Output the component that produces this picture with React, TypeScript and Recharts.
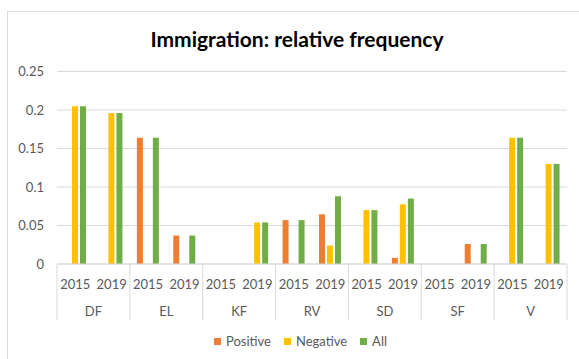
import React from "react"
import { Bar, BarChart, CartesianGrid, Legend, XAxis, YAxis } from "recharts"

const groups = ["DF", "EL", "KF", "RV", "SD", "SF", "V"]
const years = ["2015", "2019"]

// one value per group/year pair, in group order
const positive = [0, 0, 0.164, 0.037, 0, 0, 0.057, 0.0645, 0, 0.008, 0, 0.026, 0, 0]
const negative = [0.205, 0.196, 0, 0, 0, 0.054, 0, 0.024, 0.07, 0.0775, 0, 0, 0.164, 0.13]
const all = [0.205, 0.196, 0.164, 0.037, 0, 0.054, 0.057, 0.088, 0.07, 0.085, 0, 0.026, 0.164, 0.13]

const yTicks = [0, 0.05, 0.1, 0.15, 0.2, 0.25]

const data = groups.flatMap((group, g) =>
  years.map((year, y) => {
    const i = g * years.length + y
    return { key: `${group}-${year}`, group, year, positive: positive[i], negative: negative[i], all: all[i] }
  })
)

const W = 579
const H = 359
const MARGIN = { top: 71.5, right: 12, left: 0, bottom: 0 }
const Y_AXIS_W = 57
const PLOT_W = W - MARGIN.left - MARGIN.right - Y_AXIS_W
const BAND = PLOT_W / data.length
const AXIS_Y = 264
const YEAR_H = 28
const GROUP_H = 40
const FONT = "Lato, 'Noto Sans', sans-serif"
const GREY = "#595959"
const LINE = "#d9d9d9"

const COLORS = { positive: "#ED7D31", negative: "#FFC000", all: "#70AD47" }

function YearTick({ x, y, index }: any) {
  const d = data[index]
  if (!d) return null
  return (
    <text x={x} y={y + 19.5} textAnchor="middle" dominantBaseline="central" fill={GREY} fontSize={13} fontFamily={FONT}>
      {d.year}
    </text>
  )
}

function GroupTick({ x, y, index }: any) {
  const d = data[index]
  if (!d || d.year !== years[0]) return null
  const left = x - BAND / 2
  const isLast = index === data.length - years.length
  return (
    <g>
      <line x1={left} x2={left} y1={AXIS_Y} y2={AXIS_Y + 56} stroke={LINE} />
      {isLast && <line x1={left + BAND * 2} x2={left + BAND * 2} y1={AXIS_Y} y2={AXIS_Y + 56} stroke={LINE} />}
      <text x={x + BAND / 2} y={y + 18.7} textAnchor="middle" dominantBaseline="central" fill={GREY} fontSize={13} fontFamily={FONT}>
        {d.group}
      </text>
    </g>
  )
}

const legendItems = [
  { label: "Positive", color: COLORS.positive },
  { label: "Negative", color: COLORS.negative },
  { label: "All", color: COLORS.all },
]

function LegendContent() {
  return (
    <div style={{ height: 27, display: "flex", alignItems: "flex-start", paddingLeft: 214, fontFamily: FONT, fontSize: 13, color: GREY }}>
      {legendItems.map((it) => (
        <div key={it.label} style={{ display: "flex", alignItems: "center", marginRight: 13, height: 18 }}>
          <span style={{ width: 7, height: 7, background: it.color, marginRight: 5 }} />
          <span>{it.label}</span>
        </div>
      ))}
    </div>
  )
}

export default function App() {
  return (
    <div style={{ position: "absolute", left: 0, top: 0, width: W, height: H, overflow: "hidden", background: "#fff" }}>
      <div style={{ position: "absolute", left: 7, top: 11, width: 700, height: 500, border: `1px solid ${LINE}` }} />
      <div
        style={{
          position: "absolute",
          left: 0,
          width: 594,
          top: 26,
          textAlign: "center",
          fontFamily: FONT,
          fontWeight: 700,
          fontSize: 21,
          color: "#000",
          lineHeight: "26px",
        }}
      >
        Immigration: relative frequency
      </div>
      <BarChart width={W} height={H} data={data} margin={MARGIN} barSize={6} barGap={2} style={{ position: "absolute", left: 0, top: 0 }}>
        <CartesianGrid vertical={false} stroke={LINE} />
        <YAxis
          width={Y_AXIS_W}
          domain={[0, 0.25]}
          ticks={yTicks}
          axisLine={false}
          tickLine={false}
          tickSize={0}
          tickMargin={13}
          tick={{ fill: GREY, fontSize: 13, fontFamily: FONT }}
        />
        <XAxis dataKey="key" height={YEAR_H} interval={0} tickLine={false} tickSize={0} tickMargin={0} stroke={LINE} tick={<YearTick />} />
        <XAxis xAxisId="group" dataKey="key" height={GROUP_H} interval={0} axisLine={false} tickLine={false} tickSize={0} tickMargin={0} tick={<GroupTick />} />
        <Legend verticalAlign="bottom" content={<LegendContent />} />
        <Bar dataKey="positive" name="Positive" fill={COLORS.positive} isAnimationActive={false} />
        <Bar dataKey="negative" name="Negative" fill={COLORS.negative} isAnimationActive={false} />
        <Bar dataKey="all" name="All" fill={COLORS.all} isAnimationActive={false} />
      </BarChart>
    </div>
  )
}
